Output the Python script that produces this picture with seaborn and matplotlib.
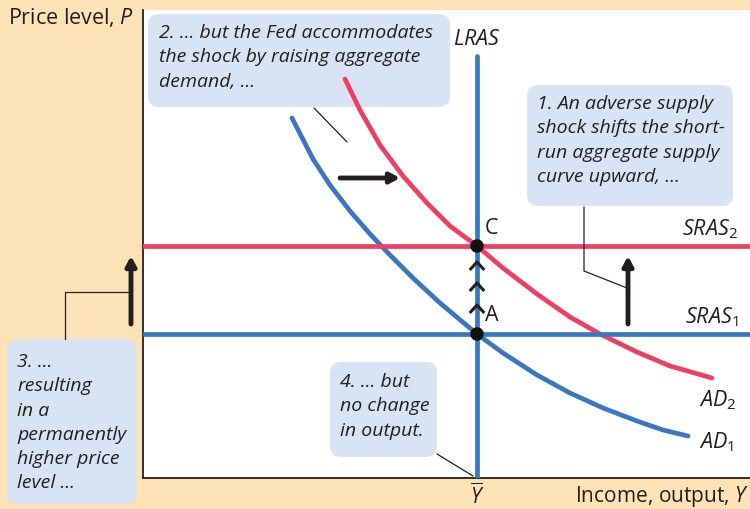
import matplotlib
matplotlib.use("Agg")
import matplotlib.pyplot as plt
from matplotlib.patches import FancyBboxPatch
from matplotlib.path import Path
import seaborn as sns
import pandas as pd

# data in plot units (x: output, y: price level)
ad1_x = [149, 170, 187, 207, 227, 247, 270, 297, 334, 360, 394, 427, 460, 494, 520, 545]
ad1_y = [360, 319, 293, 267, 244, 223, 200, 175, 144, 125, 103, 85, 70, 57, 48, 42]
ad2_x = [202, 217, 237, 260, 284, 307, 334, 360, 394, 427, 457, 494, 527, 569]
ad2_y = [399, 368, 333, 302, 275, 252, 232, 210, 184, 161, 144, 126, 112, 100]
y_bar = 334
lras_top = 422
sras1_level = 144
sras2_level = 232
points_x = [334, 334]
points_y = [144, 232]
point_labels = ["A", "C"]
chevron_y = [169, 191, 212]

BG = "#FDE2B6"
BLUE = "#3A77C0"
RED = "#EE3F62"
BOX = "#D8E3F3"
INK = "#231F20"

sns.set_style("white")
plt.rcParams["font.family"] = ["Open Sans", "DejaVu Sans"]
plt.rcParams["mathtext.fontset"] = "custom"
plt.rcParams["mathtext.rm"] = "Open Sans"
plt.rcParams["mathtext.it"] = "Open Sans:italic"

fig = plt.figure(figsize=(7.5, 5.1), dpi=100, facecolor=BG)
ax = fig.add_axes([143 / 750, 31 / 510, 607 / 750, 468 / 510])
ax.set_facecolor("white")
ax.set_xlim(0, 607)
ax.set_ylim(0, 468)
ax.set_xticks([])
ax.set_yticks([])
for s in ["top", "right"]:
    ax.spines[s].set_visible(False)
for s in ["left", "bottom"]:
    ax.spines[s].set_color(INK)
    ax.spines[s].set_linewidth(1.3)


def px_box(x0, y0, x1, y1):
    # box given in figure pixels (top-left origin) -> axes data units
    p = FancyBboxPatch((x0 - 143, 479 - y1), x1 - x0, y1 - y0,
                       boxstyle="round,pad=0,rounding_size=11",
                       fc=BOX, ec="none", clip_on=False, zorder=1)
    ax.add_patch(p)


def px_text(x, y, s, **kw):
    kw.setdefault("fontsize", 14)
    kw.setdefault("color", INK)
    ax.text(x - 143, 479 - y, s, clip_on=False, zorder=6, **kw)


# callout boxes
px_box(148, 15, 450, 108)
px_box(527, 86, 733, 207)
px_box(7, 340, 137, 505)
px_box(330, 363, 437, 458)

# curves
ad1 = pd.DataFrame({"x": ad1_x, "y": ad1_y})
ad2 = pd.DataFrame({"x": ad2_x, "y": ad2_y})
sns.lineplot(data=ad1, x="x", y="y", ax=ax, color=BLUE, lw=3.4, sort=False, zorder=3)
sns.lineplot(data=ad2, x="x", y="y", ax=ax, color=RED, lw=3.4, sort=False, zorder=3)
ax.axhline(sras1_level, color=BLUE, lw=3.4, zorder=3)
ax.axhline(sras2_level, color=RED, lw=3.4, zorder=3)
ax.plot([y_bar, y_bar], [0, lras_top], color=BLUE, lw=3.4, zorder=3)

sns.scatterplot(x=points_x, y=points_y, ax=ax, color="#111111", s=95, zorder=5,
                edgecolor="none")
chevron = Path([(-1, -0.55), (0, 0.55), (1, -0.55)],
               [Path.MOVETO, Path.LINETO, Path.LINETO])
sns.scatterplot(x=[y_bar] * 3, y=chevron_y, ax=ax, marker=chevron, s=110,
                facecolor="none", edgecolor=INK, linewidth=2.2, zorder=5)

# arrows
arrow_kw = dict(arrowstyle="-|>,head_length=0.55,head_width=0.3", lw=3.5, color=INK,
                shrinkA=0, shrinkB=0)
ax.annotate("", xy=(257, 300), xytext=(197, 300), arrowprops=arrow_kw, zorder=5)
ax.annotate("", xy=(485, 222), xytext=(485, 154), arrowprops=arrow_kw, zorder=5)
ax.annotate("", xy=(-12, 222), xytext=(-12, 154), arrowprops=arrow_kw, zorder=5,
            annotation_clip=False)

# leader lines
lead = dict(color=INK, lw=0.9, clip_on=False, zorder=4)
ax.plot([171, 204], [370, 336], **lead)
ax.plot([441, 441, 484], [271, 207, 190], **lead)
ax.plot([-78, -78, -15], [139, 186, 186], **lead)
ax.plot([294, 330], [24, 2], **lead)

# point labels
for xp, yp, lab in zip(points_x, points_y, point_labels):
    dy = 19 if lab == "A" else 18
    ax.text(xp + 8, yp + dy, lab, fontsize=15.5, color=INK, va="center", zorder=6)

# curve labels
px_text(453, 40, r"$\mathit{LRAS}$", fontsize=15.5, va="center")
px_text(738, 229, r"$\mathit{SRAS}_{\mathrm{2}}$", fontsize=15.5, va="center", ha="right")
px_text(738, 317, r"$\mathit{SRAS}_{\mathrm{1}}$", fontsize=15.5, va="center", ha="right")
px_text(736, 400, r"$\mathit{AD}_{\mathrm{2}}$", fontsize=15.5, va="center", ha="right")
px_text(734, 442, r"$\mathit{AD}_{\mathrm{1}}$", fontsize=15.5, va="center", ha="right")

# axis labels
px_text(477, 496, r"$\overline{Y}$", fontsize=15, va="center", ha="center")
px_text(749, 497, r"Income, output, $Y$", fontsize=15, va="center", ha="right")
px_text(8, 18, r"Price level, $P$", fontsize=15.5, va="center", ha="left")

# callout text
box_kw = dict(fontsize=14, style="italic", va="top", ha="left", linespacing=1.45)
px_text(159, 24, "2. ... but the Fed accommodates\nthe shock by raising aggregate\ndemand, ...", **box_kw)
px_text(537, 95, "1. An adverse supply\nshock shifts the short-\nrun aggregate supply\ncurve upward, ...", **box_kw)
px_text(17, 353, "3. ...\nresulting\nin a\npermanently\nhigher price\nlevel ...", **box_kw)
px_text(340, 373, "4. ... but\nno change\nin output.", **box_kw)

fig.savefig("out.png", dpi=100, facecolor=BG)
